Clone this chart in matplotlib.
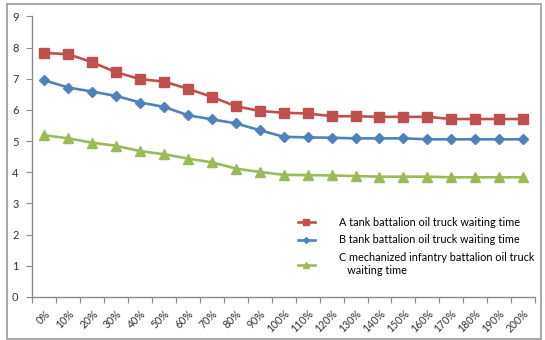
import matplotlib
matplotlib.use("Agg")
import matplotlib.pyplot as plt
from matplotlib.patches import Rectangle

plt.rcParams["font.family"] = ["Lato", "DejaVu Sans"]

categories = [f"{p}%" for p in range(0, 210, 10)]

tank_a = [7.83, 7.79, 7.53, 7.21, 6.99, 6.91, 6.68, 6.42, 6.12, 5.97, 5.91,
          5.89, 5.80, 5.80, 5.78, 5.78, 5.78, 5.71, 5.71, 5.71, 5.71]
tank_b = [6.95, 6.72, 6.59, 6.45, 6.24, 6.10, 5.83, 5.70, 5.57, 5.35, 5.14,
          5.12, 5.11, 5.09, 5.09, 5.09, 5.06, 5.06, 5.06, 5.06, 5.06]
mech_c = [5.19, 5.09, 4.95, 4.85, 4.68, 4.58, 4.44, 4.32, 4.12, 4.01, 3.92,
          3.91, 3.90, 3.88, 3.86, 3.86, 3.86, 3.84, 3.84, 3.84, 3.84]

series_labels = [
    "A tank battalion oil truck waiting time",
    "B tank battalion oil truck waiting time",
    "C mechanized infantry battalion oil truck\n   waiting time",
]

fig = plt.figure(figsize=(5.45, 3.4), dpi=100)
ax = fig.add_axes([0.0596, 0.1265, 0.9221, 0.825])

# outer chart border
fig.patches.append(Rectangle((7 / 545, 1 / 340), 534 / 545, 335 / 340,
                             transform=fig.transFigure, fill=False,
                             edgecolor="#9a9a9a", linewidth=1.2))

x = list(range(len(categories)))
ax.plot(x, tank_a, color="#C0504D", lw=1.9, marker="s", ms=6.5,
        label=series_labels[0])
ax.plot(x, tank_b, color="#4F81BD", lw=1.9, marker="D", ms=5,
        label=series_labels[1])
ax.plot(x, mech_c, color="#9BBB59", lw=1.9, marker="^", ms=7,
        label=series_labels[2])

ax.set_xlim(-0.5, len(categories) - 0.5)
ax.set_ylim(0, 9)
ax.set_yticks(range(0, 10))
ax.set_xticks([i - 0.5 for i in range(len(categories) + 1)])
ax.set_xticklabels([])
ax.set_xticks(x, minor=True)
ax.set_xticklabels(categories, minor=True, rotation=45, ha="right",
                   rotation_mode="anchor", fontsize=7.6, color="#333333")
ax.tick_params(axis="x", which="minor", length=0, pad=8)
ax.tick_params(axis="x", which="major", length=4, color="#8a8a8a")
ax.tick_params(axis="y", length=4, color="#8a8a8a", labelsize=8,
               labelcolor="#333333", pad=6)

for s in ["top", "right"]:
    ax.spines[s].set_visible(False)
for s in ["left", "bottom"]:
    ax.spines[s].set_color("#8a8a8a")
    ax.spines[s].set_linewidth(1.0)

leg = ax.legend(loc="upper left", bbox_to_anchor=(0.508, 0.32),
                frameon=False, fontsize=7.8, handlelength=1.6,
                handletextpad=2.2, labelspacing=0.6, markerscale=0.6)

fig.savefig("out.png", dpi=100)
